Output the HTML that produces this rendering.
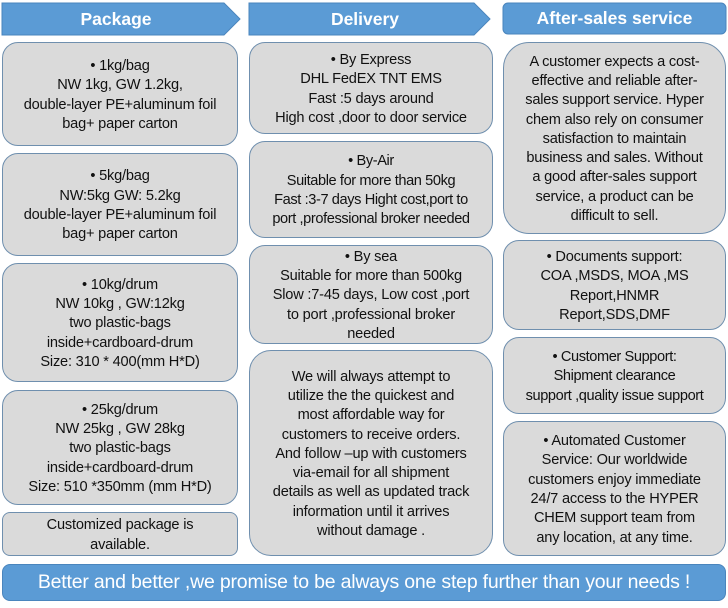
<!DOCTYPE html>
<html><head><meta charset="utf-8"><style>
body{margin:0;width:728px;height:608px;background:#fff;position:relative;font-family:"Liberation Sans",sans-serif;overflow:hidden}
.b{position:absolute;box-sizing:border-box;background:#dadada;border:1.5px solid #6f8fae;border-radius:16px;display:flex;align-items:center;justify-content:center;text-align:center;font-size:14.6px;line-height:19.3px;color:#111;letter-spacing:-0.2px;white-space:nowrap;padding-top:3px}
.h{position:absolute;color:#fff;font-weight:bold;font-size:17.5px;display:flex;align-items:center;justify-content:center}
</style></head><body>
<svg style="position:absolute;left:0;top:0" width="728" height="40">
<polygon points="2,3 224,3 240,19 224,35 2,35" fill="#5b9bd5" stroke="#4a85bd"/>
<polygon points="249,3 474,3 490,19 474,35 249,35" fill="#5b9bd5" stroke="#4a85bd"/>
<rect x="503" y="3" width="223" height="31" rx="5" fill="#5b9bd5" stroke="#4a85bd"/>
</svg>
<div class="h" style="left:2px;top:3px;width:228px;height:32px">Package</div>
<div class="h" style="left:249px;top:3px;width:232px;height:32px">Delivery</div>
<div class="h" style="left:503px;top:3px;width:223px;height:31px">After-sales service</div>

<div class="b" style="left:2px;top:42px;width:236px;height:104px">• 1kg/bag<br>NW 1kg, GW 1.2kg,<br>double-layer PE+aluminum foil<br>bag+ paper carton</div>
<div class="b" style="left:2px;top:153px;width:236px;height:103px">• 5kg/bag<br>NW:5kg GW: 5.2kg<br>double-layer PE+aluminum foil<br>bag+ paper carton</div>
<div class="b" style="left:2px;top:263px;width:236px;height:119px">• 10kg/drum<br>NW 10kg , GW:12kg<br>two plastic-bags<br>inside+cardboard-drum<br>Size: 310 * 400(mm H*D)</div>
<div class="b" style="left:2px;top:390px;width:236px;height:115px">• 25kg/drum<br>NW 25kg , GW 28kg<br>two plastic-bags<br>inside+cardboard-drum<br>Size: 510 *350mm (mm H*D)</div>
<div class="b" style="left:2px;top:512px;width:236px;height:44px;border-radius:8px">Customized package is<br>available.</div>

<div class="b" style="left:249px;top:42px;width:244px;height:92px">• By Express<br>DHL FedEX TNT EMS<br>Fast :5 days around<br>High cost ,door to door service</div>
<div class="b" style="left:249px;top:141px;width:244px;height:97px;letter-spacing:-0.4px">• By-Air<br>Suitable for more than 50kg<br>Fast :3-7 days Hight cost,port to<br>port ,professional broker needed</div>
<div class="b" style="left:249px;top:245px;width:244px;height:99px">• By sea<br>Suitable for more than 500kg<br>Slow :7-45 days, Low cost ,port<br>to port ,professional broker<br>needed</div>
<div class="b" style="left:249px;top:350px;width:244px;height:206px;border-radius:22px">We will always attempt to<br>utilize the the quickest and<br>most affordable way for<br>customers to receive orders.<br>And follow –up with customers<br>via-email for all shipment<br>details as well as updated track<br>information until it arrives<br>without damage .</div>

<div class="b" style="left:503px;top:42px;width:223px;height:192px;border-radius:26px">A customer expects a cost-<br>effective and reliable after-<br>sales support service. Hyper<br>chem also rely on consumer<br>satisfaction to maintain<br>business and sales. Without<br>a good after-sales support<br>service, a product can be<br>difficult to sell.</div>
<div class="b" style="left:503px;top:240px;width:223px;height:90px">• Documents support:<br>COA ,MSDS, MOA ,MS<br>Report,HNMR<br>Report,SDS,DMF</div>
<div class="b" style="left:503px;top:337px;width:223px;height:77px;letter-spacing:-0.4px">• Customer Support:<br>Shipment clearance<br>support ,quality issue support</div>
<div class="b" style="left:503px;top:421px;width:223px;height:135px">• Automated Customer<br>Service: Our worldwide<br>customers enjoy immediate<br>24/7 access to the HYPER<br>CHEM support team from<br>any location, at any time.</div>

<div class="b" style="left:2px;top:564px;width:724px;height:37px;background:#5b9bd5;border-color:#4a85bd;border-radius:8px;color:#fff;font-size:19.5px;padding-top:0">Better and better ,we promise to be always one step further than your needs !</div>
</body></html>
